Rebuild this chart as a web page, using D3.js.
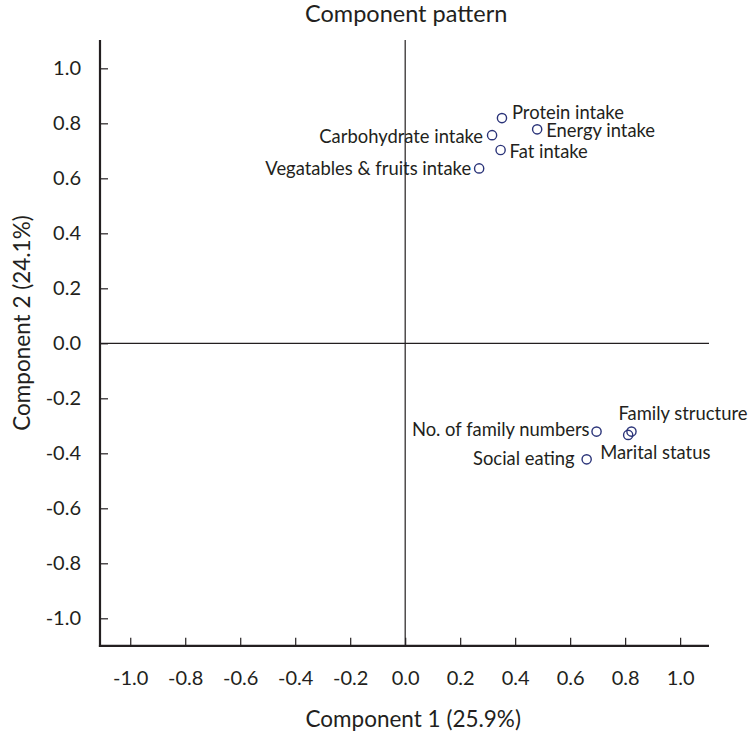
<!DOCTYPE html>
<html>
<head>
<meta charset="utf-8">
<script src="https://cdn.jsdelivr.net/npm/d3@7/dist/d3.min.js"></script>
<style>
  html, body { margin: 0; padding: 0; background: #fff; }
  svg { display: block; }
  text { font-family: Lato, "Open Sans", sans-serif; fill: #231f20; }
</style>
</head>
<body>
<svg id="chart" width="749" height="737"></svg>
<script>
// ---- data ----
const names = ["Protein intake", "Energy intake", "Carbohydrate intake", "Fat intake",
  "Vegatables & fruits intake", "No. of family numbers", "Family structure",
  "Marital status", "Social eating"];
const comp1 = [0.352, 0.480, 0.316, 0.347, 0.269, 0.696, 0.823, 0.811, 0.660];
const comp2 = [0.819, 0.778, 0.757, 0.703, 0.636, -0.321, -0.321, -0.333, -0.422];
const tickValues = [-1.0, -0.8, -0.6, -0.4, -0.2, 0.0, 0.2, 0.4, 0.6, 0.8, 1.0];
const titleText = "Component pattern";
const xTitle = "Component 1 (25.9%)";
const yTitle = "Component 2 (24.1%)";

// ---- layout ----
const svg = d3.select("#chart");
const x = d3.scaleLinear().domain([-1.11, 1.105]).range([100, 709]);
const y = d3.scaleLinear().domain([-1.1, 1.103]).range([645.8, 40]);
const ink = "#231f20";
const fmt = d => d3.format(".1f")(d).replace("\u2212", "-");

// zero reference lines
svg.append("line").attr("x1", x(0)).attr("x2", x(0))
  .attr("y1", y.range()[1]).attr("y2", y.range()[0])
  .attr("stroke", ink).attr("stroke-width", 1.2);
svg.append("line").attr("x1", x.range()[0]).attr("x2", x.range()[1])
  .attr("y1", y(0)).attr("y2", y(0))
  .attr("stroke", ink).attr("stroke-width", 1.2);

// axes
const yAxis = d3.axisLeft(y).tickValues(tickValues).tickFormat(fmt)
  .tickSizeInner(-8).tickSizeOuter(0).tickPadding(19);
const xAxis = d3.axisBottom(x).tickValues(tickValues).tickFormat(fmt)
  .tickSizeInner(-8).tickSizeOuter(0).tickPadding(25);

const gy = svg.append("g").attr("transform", `translate(${x.range()[0]},0)`).call(yAxis);
const gx = svg.append("g").attr("transform", `translate(0,${y.range()[0]})`).call(xAxis);
[gx, gy].forEach(g => {
  g.select(".domain").attr("stroke", ink).attr("stroke-width", 2.2);
  g.selectAll(".tick line").attr("stroke", ink).attr("stroke-width", 1.2);
  g.selectAll(".tick text").attr("font-family", "Lato, sans-serif")
    .attr("font-size", 20).attr("fill", ink);
});
// extend domain lines to meet at the corner
gy.select(".domain").attr("d", `M0,${y.range()[1]}V${y.range()[0] + 1.1}`);
gx.select(".domain").attr("d", `M${x.range()[0] - 1.1},0H${x.range()[1]}`);

// titles
svg.append("text").attr("x", x(0) + 1).attr("y", 22).attr("text-anchor", "middle")
  .attr("font-size", 23.5).text(titleText);
svg.append("text").attr("x", x(0) + 8).attr("y", 727).attr("text-anchor", "middle")
  .attr("font-size", 22.5).text(xTitle);
svg.append("text").attr("transform", `translate(30,323) rotate(-90)`)
  .attr("text-anchor", "middle").attr("font-size", 22.5).text(yTitle);

// label placement: [dx, dy(baseline), anchor]
const place = {
  "Protein intake": [10, 1, "start"],
  "Energy intake": [9, 8, "start"],
  "Carbohydrate intake": [-9, 8, "end"],
  "Fat intake": [9, 8, "start"],
  "Vegatables & fruits intake": [-8, 7, "end"],
  "No. of family numbers": [-7, 4, "end"],
  "Family structure": [-13, -12, "start"],
  "Marital status": [-28, 24, "start"],
  "Social eating": [-12, 6, "end"]
};

const pts = names.map((n, i) => ({ name: n, c1: comp1[i], c2: comp2[i] }));
const g = svg.append("g");
g.selectAll("circle").data(pts).join("circle")
  .attr("cx", d => x(d.c1)).attr("cy", d => y(d.c2)).attr("r", 4.6)
  .attr("fill", "none").attr("stroke", "#2b3479").attr("stroke-width", 1.4);
g.selectAll("text").data(pts).join("text")
  .attr("x", d => x(d.c1) + place[d.name][0])
  .attr("y", d => y(d.c2) + place[d.name][1])
  .attr("text-anchor", d => place[d.name][2])
  .attr("font-size", 18.4)
  .text(d => d.name);
</script>
</body>
</html>
